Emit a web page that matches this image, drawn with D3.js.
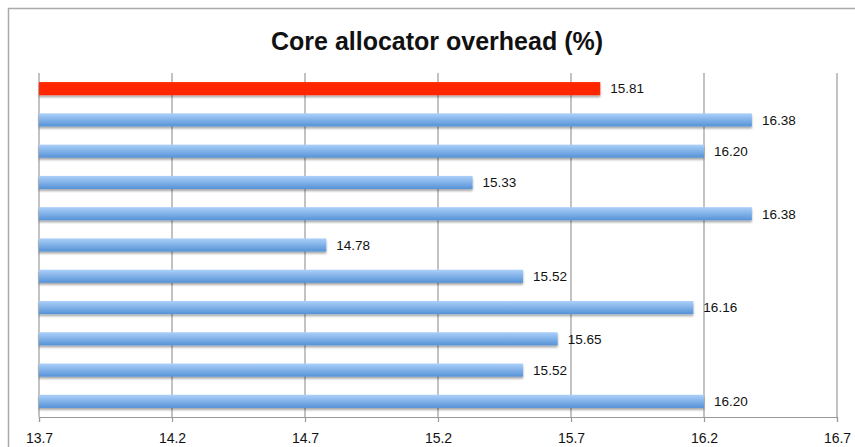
<!DOCTYPE html>
<html>
<head>
<meta charset="utf-8">
<script src="https://cdn.jsdelivr.net/npm/d3@7"></script>
<style>
  html, body { margin: 0; padding: 0; background: #fff; }
  svg { display: block; font-family: "Liberation Sans", Arial, Helvetica, sans-serif; }
</style>
</head>
<body>
<svg id="chart" width="855" height="447"></svg>
<script>
// Overhead of each allocator configuration, top to bottom
const categories = ["c1", "c2", "c3", "c4", "c5", "c6", "c7", "c8", "c9", "c10", "c11"];
const overhead = [15.81, 16.38, 16.20, 15.33, 16.38, 14.78, 15.52, 16.16, 15.65, 15.52, 16.20];
const highlighted = ["c1"];
const xTicks = [13.7, 14.2, 14.7, 15.2, 15.7, 16.2, 16.7];
const chartTitle = "Core allocator overhead (%)";

const svg = d3.select("#chart");
const width = 855, height = 447;
const margin = { top: 73, right: 18, bottom: 30, left: 39 };
const plotW = width - margin.left - margin.right;
const plotH = height - margin.top - margin.bottom;

const defs = svg.append("defs");
const blue = defs.append("linearGradient").attr("id", "blueBar")
  .attr("x1", 0).attr("y1", 0).attr("x2", 0).attr("y2", 1);
blue.append("stop").attr("offset", "0%").attr("stop-color", "#acd0fa");
blue.append("stop").attr("offset", "100%").attr("stop-color", "#5592d6");
const shadow = defs.append("filter").attr("id", "barShadow")
  .attr("x", "-5%").attr("y", "-40%").attr("width", "110%").attr("height", "200%");
shadow.append("feDropShadow").attr("dx", 0).attr("dy", 2).attr("stdDeviation", 1.2)
  .attr("flood-color", "#000").attr("flood-opacity", 0.35);

// outer frame
svg.append("path")
  .attr("d", `M8.5,${height} L8.5,8.5 L${width},8.5`)
  .attr("fill", "none").attr("stroke", "#aaaaaa").attr("stroke-width", 1.5);

svg.append("text")
  .attr("x", 437).attr("y", 50)
  .attr("text-anchor", "middle")
  .attr("font-size", 25).attr("font-weight", "bold").attr("fill", "#111")
  .text(chartTitle);

const x = d3.scaleLinear().domain([xTicks[0], xTicks[xTicks.length - 1]]).range([0, plotW]);
const y = d3.scaleBand().domain(categories).range([0, plotH]).paddingInner(0.58).paddingOuter(0.29);

const g = svg.append("g").attr("transform", `translate(${margin.left},${margin.top})`);

// vertical grid lines
g.append("g").selectAll("line").data(xTicks).join("line")
  .attr("x1", d => x(d)).attr("x2", d => x(d))
  .attr("y1", 0).attr("y2", plotH)
  .attr("stroke", "#9a9a9a").attr("stroke-width", 1.2);

// bottom axis
const axis = g.append("g").attr("transform", `translate(0,${plotH})`)
  .call(d3.axisBottom(x).tickValues(xTicks).tickFormat(d3.format(".1f")).tickSize(5).tickPadding(11));
axis.select(".domain").attr("stroke", "#9a9a9a").attr("stroke-width", 1.2);
axis.selectAll(".tick line").attr("stroke", "#9a9a9a").attr("stroke-width", 1.2);
axis.selectAll(".tick text").attr("font-size", 14).attr("fill", "#111")
  .attr("font-family", "Liberation Sans, Arial, sans-serif");

const data = categories.map((c, i) => ({ c, v: overhead[i] }));

g.append("g").selectAll("rect").data(data).join("rect")
  .attr("x", 0)
  .attr("y", d => y(d.c))
  .attr("width", d => x(d.v))
  .attr("height", y.bandwidth())
  .attr("fill", d => highlighted.includes(d.c) ? "#ff2600" : "url(#blueBar)")
  .attr("filter", "url(#barShadow)");

g.append("g").selectAll("text").data(data).join("text")
  .attr("x", d => x(d.v) + 10)
  .attr("y", d => y(d.c) + y.bandwidth() / 2)
  .attr("dy", "0.36em")
  .attr("font-size", 13.5).attr("fill", "#111")
  .text(d => d3.format(".2f")(d.v));
</script>
</body>
</html>
